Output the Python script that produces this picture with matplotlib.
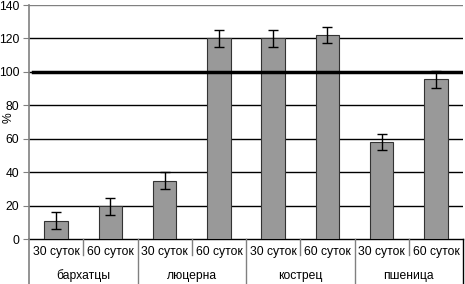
import matplotlib.pyplot as plt
import matplotlib.transforms as mtransforms
import numpy as np

plt.rcParams['font.family'] = ['Liberation Sans', 'DejaVu Sans']

# data
groups = ['бархатцы', 'люцерна', 'кострец', 'пшеница']
periods = ['30 суток', '60 суток']
values = [11, 19.5, 35, 120, 120, 122, 58, 95.5]
errors = [5, 5, 5, 5, 5, 5, 5, 5]
ref_level = 100

fs = 8.7
fig = plt.figure(figsize=(4.65, 2.84), dpi=100)
ax = fig.add_axes([29/465, 45/284, 434/465, 234/284])

x = np.arange(len(values))
ax.bar(x, values, width=0.43, color='#999999', edgecolor='#333333', lw=0.8, zorder=3)
ax.errorbar(x, values, yerr=errors, fmt='none', ecolor='black', elinewidth=1,
            capsize=3.8, capthick=1, zorder=4)

ax.set_xlim(-0.5, len(values) - 0.5)
ax.set_ylim(0, 140)
ax.set_yticks(np.arange(0, 141, 20))
for yv in range(20, 121, 20):
    ax.axhline(yv, color='black', lw=1, zorder=1)
ax.axhline(140, color='#808080', lw=1, zorder=1)
ax.axhline(ref_level, xmin=0.01, color='black', lw=2.5, zorder=5)

for s in ['top', 'right', 'bottom']:
    ax.spines[s].set_visible(False)
ax.spines['left'].set_color('#808080')
ax.spines['left'].set_linewidth(1.2)
ax.spines['left'].set_bounds(0, 140)
ax.tick_params(axis='y', length=4, color='#808080', labelsize=fs, pad=3)
ax.set_xticks([])
ax.set_ylabel('%', fontsize=fs)
ax.yaxis.set_label_coords(-0.034, 0.517)

# category table below the axis
tr = mtransforms.blended_transform_factory(ax.transData, ax.transAxes)
ax.plot([-0.5, len(values) - 0.5], [0, 0], transform=tr, color='black', lw=1, clip_on=False)
ax.plot([-0.5, -0.5], [0, -0.2], transform=tr, color='#808080', lw=1.2, clip_on=False)
for i in range(len(values)):
    ax.text(i, -0.055, periods[i % 2], transform=tr, ha='center', va='center', fontsize=fs)
for g, name in enumerate(groups):
    ax.text(2*g + 0.5, -0.158, name, transform=tr, ha='center', va='center', fontsize=fs)
    ax.plot([2*g + 0.5, 2*g + 0.5], [0, -0.068], transform=tr, color='#808080', lw=1, clip_on=False)
    ax.plot([2*g + 1.5, 2*g + 1.5], [0, -0.2], transform=tr,
            color='black' if g == 3 else '#808080', lw=1, clip_on=False)

fig.savefig('out.png', dpi=100)
